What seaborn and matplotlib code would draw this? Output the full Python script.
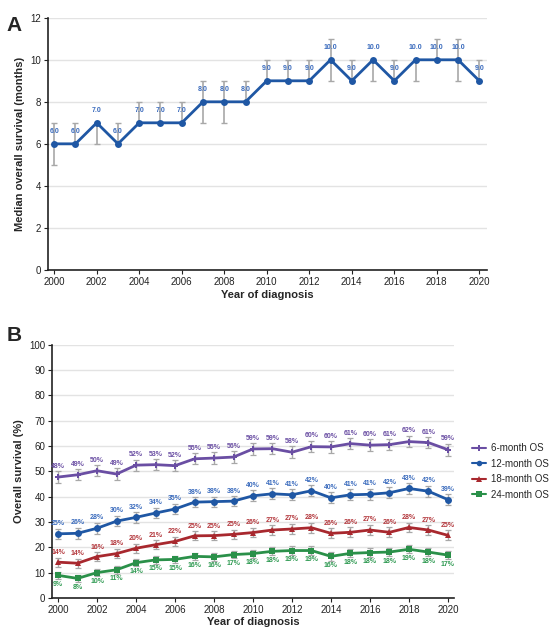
import numpy as np
import pandas as pd
import seaborn as sns
import matplotlib.pyplot as plt

# Panel A data: median OS per year with CI
years = list(range(2000, 2021))
median_os = [6, 6, 7, 6, 7, 7, 7, 8, 8, 8, 9, 9, 9, 10, 9, 10, 9, 10, 10, 10, 9]
median_lo = [5, 6, 6, 6, 7, 7, 7, 7, 7, 8, 9, 9, 9, 9, 9, 9, 9, 9, 10, 9, 9]
median_hi = [7, 7, 7, 7, 8, 8, 8, 9, 9, 9, 10, 10, 10, 11, 10, 10, 10, 10, 11, 11, 10]

# Panel B data: OS rates (%)
os6 = [47.8, 48.7, 50.3, 49.0, 52.5, 52.7, 52.3, 55.0, 55.3, 55.7, 58.9,
       59.0, 57.6, 59.8, 59.7, 61.0, 60.4, 60.6, 61.8, 61.4, 58.6]
os12 = [25.4, 25.6, 27.6, 30.4, 31.9, 33.6, 35.2, 37.9, 38.1, 38.3, 40.4,
        41.2, 40.8, 42.4, 39.6, 40.8, 41.0, 41.6, 43.3, 42.2, 38.9]
os18 = [14.2, 13.8, 16.4, 17.6, 19.7, 21.1, 22.4, 24.6, 24.7, 25.2, 25.9,
        26.9, 27.3, 27.8, 25.6, 26.0, 26.9, 26.0, 27.9, 26.9, 24.8]
os24 = [9.0, 7.8, 10.1, 11.2, 14.0, 15.1, 15.3, 16.5, 16.3, 17.2, 17.6,
        18.5, 18.8, 18.8, 16.5, 17.7, 18.0, 18.2, 19.3, 18.2, 17.0]
os6_err = [2.2, 2.2, 2.2, 2.2, 2.2, 2.2, 2.2, 2.2, 2.2, 2.2, 2.2,
           2.2, 2.3, 2.3, 2.3, 2.2, 2.3, 2.2, 2.2, 2.2, 2.3]
os12_err = [2.0, 2.1, 2.1, 2.1, 2.1, 2.1, 2.1, 2.0, 2.0, 2.0, 2.1,
            2.1, 2.2, 2.2, 2.2, 2.1, 2.2, 2.1, 2.1, 2.1, 2.2]
os18_err = [1.8, 1.8, 1.8, 1.8, 1.8, 1.8, 1.8, 1.8, 1.8, 1.8, 1.9,
            1.9, 2.0, 2.0, 2.0, 1.9, 2.0, 1.9, 1.9, 1.9, 2.0]
os24_err = [1.5, 1.5, 1.5, 1.5, 1.5, 1.5, 1.5, 1.5, 1.5, 1.5, 1.6,
            1.6, 1.7, 1.7, 1.7, 1.6, 1.7, 1.6, 1.6, 1.6, 1.7]

series_names = ["6-month OS", "12-month OS", "18-month OS", "24-month OS"]
series_vals = [os6, os12, os18, os24]
series_err = [os6_err, os12_err, os18_err, os24_err]
colors = ["#6a4ea3", "#1f57a4", "#a8282e", "#2a9049"]
label_colors = ["#6a4ea3", "#3a6bbd", "#b3373c", "#2f9a52"]
markers = ["P", "o", "^", "s"]

sns.set_theme(style="white")
plt.rcParams['font.family'] = ['Liberation Sans', 'DejaVu Sans']

fig = plt.figure(figsize=(5.5, 6.35), dpi=100)
axA = fig.add_axes([0.087, 0.575, 0.798, 0.397])
axB = fig.add_axes([0.095, 0.058, 0.730, 0.399])

grid_col = "#e3e3e3"
err_col = "#a8a8a8"

# ---- Panel A
dfA = pd.DataFrame({"year": years, "median": median_os})
for i, y in enumerate(years):
    axA.errorbar(y, median_os[i],
                 yerr=[[median_os[i] - median_lo[i]], [median_hi[i] - median_os[i]]],
                 fmt="none", ecolor=err_col, elinewidth=1.2, capsize=2.5, capthick=1.0, zorder=2)
sns.lineplot(data=dfA, x="year", y="median", ax=axA, color="#1f57a4", lw=2,
             marker="o", markersize=5, markeredgewidth=0, zorder=3)
for i, y in enumerate(years):
    axA.text(y, median_os[i] + 0.4, f"{median_os[i]:.1f}", ha="center", va="bottom",
             fontsize=5, fontweight="bold", color="#3a6bbd", zorder=4)
axA.set_xlim(1999.7, 2020.35)
axA.set_ylim(0, 12)
axA.set_yticks(range(0, 13, 2))
axA.set_xticks(range(2000, 2021, 2))
axA.set_xlabel("Year of diagnosis", fontsize=8, fontweight="bold", labelpad=2)
axA.set_ylabel("Median overall survival (months)", fontsize=8, fontweight="bold", labelpad=4)
fig.text(0.012, 0.975, "A", fontsize=15, fontweight="bold", va="top")

# ---- Panel B
for k in range(4):
    for i, y in enumerate(years):
        axB.errorbar(y, series_vals[k][i], yerr=series_err[k][i], fmt="none",
                     ecolor=err_col, elinewidth=1.0, capsize=2.5, capthick=0.9, zorder=2)

dfB = pd.DataFrame({
    "year": years * 4,
    "os": os6 + os12 + os18 + os24,
    "series": sum([[n] * len(years) for n in series_names], []),
})
sns.lineplot(data=dfB, x="year", y="os", hue="series", style="series",
             hue_order=series_names, style_order=series_names,
             palette=colors, markers=markers, dashes=False, lw=2, markersize=5,
             markeredgewidth=0, ax=axB, zorder=3)

for k in range(4):
    for i, y in enumerate(years):
        v = series_vals[k][i]
        if k == 3:
            axB.text(y, v - series_err[k][i] - 0.6, f"{v:.0f}%", ha="center", va="top",
                     fontsize=5, fontweight="bold", color=label_colors[k], zorder=4)
        else:
            axB.text(y, v + series_err[k][i] + 0.6, f"{v:.0f}%", ha="center", va="bottom",
                     fontsize=5, fontweight="bold", color=label_colors[k], zorder=4)

axB.set_xlim(1999.7, 2020.3)
axB.set_ylim(0, 100)
axB.set_yticks(range(0, 101, 10))
axB.set_xticks(range(2000, 2021, 2))
axB.set_xlabel("Year of diagnosis", fontsize=8, fontweight="bold", labelpad=1)
axB.set_ylabel("Overall survival (%)", fontsize=8, fontweight="bold", labelpad=4)
leg = axB.legend(loc="center left", bbox_to_anchor=(1.045, 0.5), frameon=False,
                 fontsize=7, handlelength=1.5, handletextpad=0.5, labelspacing=0.55,
                 borderaxespad=0, borderpad=0)
for h in leg.legend_handles:
    h.set_markersize(4)
    h.set_linewidth(1.5)
fig.text(0.012, 0.487, "B", fontsize=15, fontweight="bold", va="top")

for ax in (axA, axB):
    ax.grid(axis="y", color=grid_col, lw=1)
    ax.grid(axis="x", visible=False)
    sns.despine(ax=ax)
    for s in ("left", "bottom"):
        ax.spines[s].set_color("#222222")
        ax.spines[s].set_linewidth(1.2)
    ax.tick_params(axis="both", labelsize=7, length=3, width=0.8, direction="out",
                   bottom=True, left=True, colors="#222222", pad=2)
    ax.set_axisbelow(True)

fig.savefig("out.png", dpi=100)
